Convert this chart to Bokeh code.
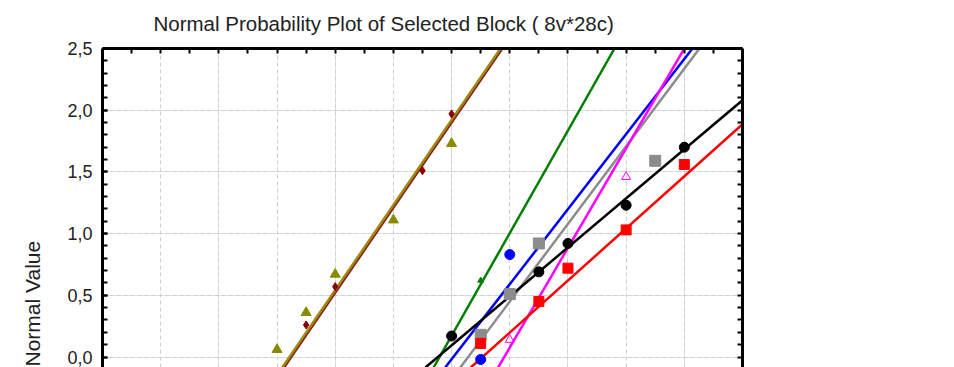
from bokeh.plotting import figure
from bokeh.models import Range1d, LinearAxis, Grid, SingleIntervalTicker, FixedTicker, Title
from bokeh.embed import file_html
from bokeh.resources import INLINE

title_text = "Normal Probability Plot of Selected Block ( 8v*28c)"
y_label = "Normal Value"
y_ticks = [0.0, 0.5, 1.0, 1.5, 2.0, 2.5]
y_tick_labels = ["0,0", "0,5", "1,0", "1,5", "2,0", "2,5"]

olive_x = [3.0, 3.5, 4.0, 5.0, 6.0]
olive_y = [0.06, 0.36, 0.67, 1.11, 1.73]
darkred_x = [3.5, 4.0, 5.5, 6.0]
darkred_y = [0.26, 0.57, 1.51, 1.97]
green_x = [6.5]
green_y = [0.62]
blue_x = [6.5, 7.0]
blue_y = [-0.02, 0.83]
gray_x = [6.5, 7.0, 7.5, 9.5]
gray_y = [0.18, 0.51, 0.92, 1.59]
black_x = [6.0, 7.5, 8.0, 9.0, 10.0]
black_y = [0.17, 0.69, 0.92, 1.23, 1.70]
red_x = [6.5, 7.5, 8.0, 9.0, 10.0]
red_y = [0.11, 0.45, 0.72, 1.03, 1.56]
magenta_x = [7.0, 9.0]
magenta_y = [0.14, 1.46]

# fitted reference lines (end points)
darkred_line_x = [3.12, 6.87]
darkred_line_y = [-0.085, 2.5]
olive_line_x = [3.09, 6.84]
olive_line_y = [-0.085, 2.5]
green_line_x = [5.69, 8.80]
green_line_y = [-0.085, 2.5]
blue_line_x = [5.89, 10.14]
blue_line_y = [-0.085, 2.5]
gray_line_x = [6.15, 10.26]
gray_line_y = [-0.085, 2.5]
magenta_line_x = [6.80, 10.00]
magenta_line_y = [-0.085, 2.5]
black_line_x = [5.55, 11.0]
black_line_y = [-0.085, 2.08]
red_line_x = [6.33, 11.0]
red_line_y = [-0.085, 1.886]

FONT = "Liberation Sans"
TXT = "#222222"

p = figure(width=954, height=367, output_backend="svg", toolbar_location=None,
           x_axis_location=None, y_axis_location=None,
           x_range=Range1d(0, 11), y_range=Range1d(-0.085, 2.5),
           min_border_left=102, min_border_right=212, min_border_top=48,
           min_border_bottom=0)
p.outline_line_color = None
p.background_fill_color = "white"
p.border_fill_color = "white"

p.title.text = title_text
p.title.align = "left"
p.title.vertical_align = "top"
p.title.offset = 51
p.title.standoff = 23
p.title.text_font = FONT
p.title.text_font_size = "20.5px"
p.title.text_font_style = "normal"
p.title.text_color = TXT

yt = SingleIntervalTicker(interval=0.5, num_minor_ticks=5)
y_minor = [i / 10 for i in range(0, 26)]
x_minor = [i / 2 for i in range(1, 22)]

def style_axis(ax):
    ax.axis_line_width = 3
    ax.axis_line_color = "black"
    ax.major_tick_in = 5
    ax.major_tick_out = 0
    ax.minor_tick_in = 5
    ax.minor_tick_out = 0
    ax.major_tick_line_width = 2
    ax.minor_tick_line_width = 2
    ax.major_tick_line_color = "black"
    ax.minor_tick_line_color = "black"

left = LinearAxis(ticker=yt)
style_axis(left)
left.major_label_overrides = {t: l for t, l in zip(y_ticks, y_tick_labels)}
left.major_label_text_font = FONT
left.major_label_text_font_size = "18px"
left.major_label_text_color = TXT
left.major_label_standoff = 10
p.add_layout(left, "left")

right = LinearAxis(ticker=FixedTicker(ticks=[], minor_ticks=y_minor))
style_axis(right)
right.major_label_standoff = 0
p.add_layout(right, "right")

top = LinearAxis(ticker=FixedTicker(ticks=[], minor_ticks=x_minor))
style_axis(top)
top.major_label_standoff = 0
p.add_layout(top, "above")

gx = Grid(dimension=0, ticker=SingleIntervalTicker(interval=1))
gy = Grid(dimension=1, ticker=SingleIntervalTicker(interval=0.5))
for g in (gx, gy):
    g.grid_line_color = "#cfcfcf"
    g.grid_line_dash = "4 3"
    g.grid_line_width = 1
p.add_layout(gx)
p.add_layout(gy)

LW = 2.5
p.line(darkred_line_x, darkred_line_y, line_color="#8b1a1a", line_width=LW)
p.line(olive_line_x, olive_line_y, line_color="#9a8a10", line_width=LW)
p.line(green_line_x, green_line_y, line_color="#008000", line_width=LW)
p.line(blue_line_x, blue_line_y, line_color="#0000ff", line_width=LW)
p.line(gray_line_x, gray_line_y, line_color="#8c8c8c", line_width=LW)
p.line(magenta_line_x, magenta_line_y, line_color="#ff00ff", line_width=LW)
p.line(black_line_x, black_line_y, line_color="black", line_width=LW)
p.line(red_line_x, red_line_y, line_color="#ff0000", line_width=LW)

p.scatter(olive_x, olive_y, marker="triangle", size=10, fill_color="#8a8a00", line_color="#8a8a00")
p.scatter(darkred_x, darkred_y, marker="diamond", size=8, fill_color="#8b0000", line_color="#8b0000")
p.scatter(green_x, green_y, marker="triangle", size=6, fill_color="#008000", line_color="#008000")
p.scatter(blue_x, blue_y, marker="circle", size=10, fill_color="#0000ff", line_color="#0000ff")
p.scatter(gray_x, gray_y, marker="square", size=11, fill_color="#8c8c8c", line_color="#8c8c8c")
p.scatter(black_x, black_y, marker="circle", size=10, fill_color="black", line_color="black")
p.scatter(red_x, red_y, marker="square", size=10, fill_color="#ff0000", line_color="#ff0000")
p.scatter(magenta_x, magenta_y, marker="triangle", size=9, fill_color=None, line_color="#ff00ff", line_width=1)

ylab = Title(text=y_label, align="left", vertical_align="top", offset=1, standoff=38,
             text_font=FONT, text_font_size="21px", text_font_style="normal",
             text_color=TXT)
p.add_layout(ylab, "left")

open("out.html", "w").write(file_html(p, INLINE))
